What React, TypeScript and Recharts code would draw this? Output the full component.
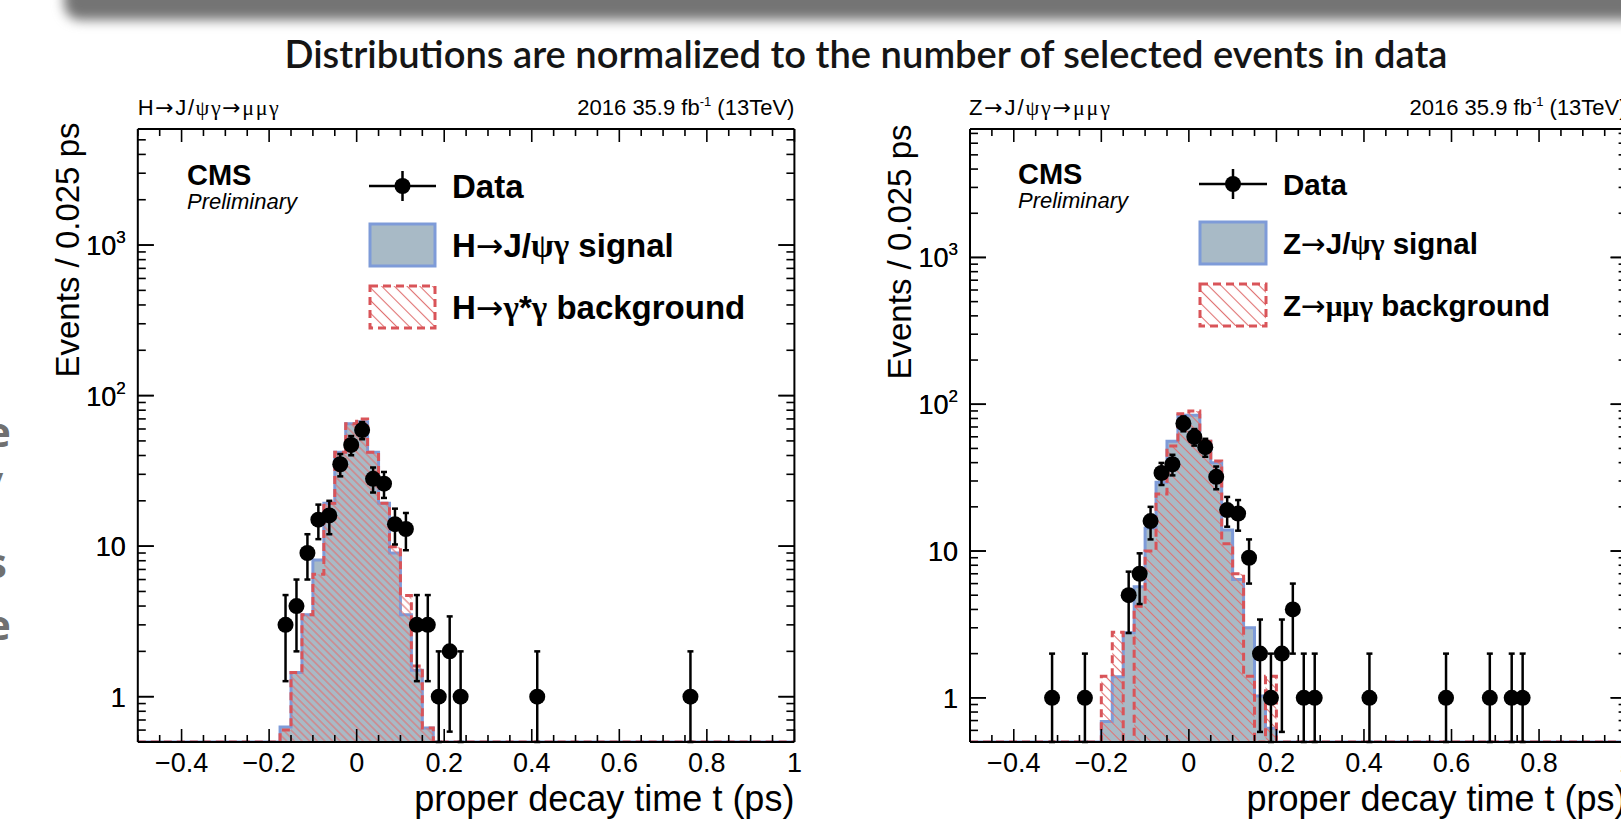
import React from 'react';
import { ComposedChart, Area, Scatter, XAxis, YAxis, ErrorBar } from 'recharts';

// ---------- common axis settings ----------
const BIN_WIDTH = 0.025;
const X_MIN = -0.5;
const X_MAX = 1.0;
const Y_MIN = 0.5;

const X_MAJOR = [-0.4, -0.2, 0, 0.2, 0.4, 0.6, 0.8, 1.0];
const X_MAJOR_LABELS = ['\u22120.4', '\u22120.2', '0', '0.2', '0.4', '0.6', '0.8', '1'];
const Y_MAJOR = [1, 10, 100, 1000];
const Y_MAJOR_BASE = ['1', '10', '10', '10'];
const Y_MAJOR_EXP = ['', '', '2', '3'];

// ---------- H -> J/psi gamma panel ----------
const hFirstEdge = -0.175;
const hSignal = [0.63, 1.45, 3.5, 8.1, 19.3, 42, 65, 67, 42, 19.3, 9.0, 3.5, 1.5, 0.62];
const hBackground = [0.6, 1.45, 3.5, 6.5, 19.3, 42, 65, 70, 42, 19.3, 9.9, 4.7, 1.6, 0.62];
const hDataT = [-0.1625, -0.1375, -0.1125, -0.0875, -0.0625, -0.0375, -0.0125, 0.0125, 0.0375, 0.0625, 0.0875, 0.1125, 0.1375, 0.1625, 0.1875, 0.2125, 0.2375, 0.4125, 0.7625];
const hDataN = [3, 4, 9, 15, 16, 35, 47, 59, 28, 26, 14, 13, 3, 3, 1, 2, 1, 1, 1];
const hYMax = 5900;

// ---------- Z -> J/psi gamma panel ----------
const zFirstEdge = -0.2;
const zSignal = [0.69, 1.39, 2.78, 5.7, 14.3, 29.4, 56, 84, 84, 56, 40, 13.9, 6.4, 3.0, 1.03, 0.62];
const zBackground = [1.4, 2.8, 0, 4.2, 10, 24.5, 52, 86, 90, 56, 41, 11.2, 7.0, 1.4, 0, 1.4];
const zDataT = [-0.3125, -0.2375, -0.1375, -0.1125, -0.0875, -0.0625, -0.0375, -0.0125, 0.0125, 0.0375, 0.0625, 0.0875, 0.1125, 0.1375, 0.1625, 0.1875, 0.2125, 0.2375, 0.2625, 0.2875, 0.4125, 0.5875, 0.6875, 0.7375, 0.7625];
const zDataN = [1, 1, 5, 7, 16, 34, 39, 74, 60, 51, 32, 19, 18, 9, 2, 1, 2, 4, 1, 1, 1, 1, 1, 1, 1];
const zYMax = 7500;

// ---------- table builders ----------
function histTable(first: number, sig: number[], bkg: number[]) {
  const n = Math.round((X_MAX - X_MIN) / BIN_WIDTH);
  const offset = Math.round((first - X_MIN) / BIN_WIDTH);
  const rows: { t: number; sig: number; bkg: number }[] = [];
  for (let i = 0; i <= n; i++) {
    const k = Math.min(i, n - 1) - offset;
    const s = sig[k] ?? 0;
    const b = bkg[k] ?? 0;
    rows.push({ t: X_MIN + i * BIN_WIDTH, sig: Math.max(s, Y_MIN), bkg: Math.max(b, Y_MIN) });
  }
  return rows;
}

function dataTable(ts: number[], ns: number[]) {
  return ts.map((t, i) => {
    const n = ns[i];
    const e = Math.sqrt(n);
    return { t, n, err: [Math.min(e, n - Y_MIN), e] };
  });
}

const X_TICKS = Array.from({ length: 31 }, (_, i) => +(X_MIN + i * 0.05).toFixed(3));
function yTicks(max: number) {
  const out: number[] = [];
  [0.1, 1, 10, 100, 1000].forEach((d) => {
    for (let m = 1; m <= 9; m++) {
      const v = +(d * m).toPrecision(3);
      if (v > Y_MIN && v < max) out.push(v);
    }
  });
  return out;
}

const FONT = "'Liberation Sans', Arial, Helvetica, sans-serif";
const SYM_FONT = "'Liberation Serif', 'DejaVu Serif', serif";
const ARROW_FONT = "'DejaVu Sans', sans-serif";
const SIG_FILL = '#a8bac6';
const SIG_LINE = '#7e9bd8';
const BKG_LINE = '#d95459';
const HATCH = '#e07272';

// render a label, giving arrows and greek letters ROOT-like glyphs
function rich(s: string) {
  const parts: React.ReactNode[] = [];
  let buf = '';
  const flush = (k: number) => {
    if (buf) parts.push(<tspan key={`b${k}`}>{buf}</tspan>);
    buf = '';
  };
  Array.from(s).forEach((ch, i) => {
    if (ch === '\u2192') {
      flush(i);
      parts.push(
        <tspan key={`a${i}`} fontFamily={ARROW_FONT} fontWeight="normal">
          {ch}
        </tspan>
      );
    } else if (/[\u0370-\u03ff]/.test(ch)) {
      flush(i);
      parts.push(
        <tspan key={`g${i}`} fontFamily={SYM_FONT}>
          {ch}
        </tspan>
      );
    } else buf += ch;
  });
  flush(9999);
  return parts;
}

const makeXTick = (side: 'bottom' | 'top') => (props: any) => {
  const { x, y, payload } = props;
  const v = payload.value as number;
  const mi = X_MAJOR.findIndex((m) => Math.abs(m - v) < 1e-6);
  const len = mi >= 0 ? 13 : 7;
  const dir = side === 'bottom' ? -1 : 1;
  return (
    <g>
      <line x1={x} x2={x} y1={y} y2={y + dir * len} stroke="#000" strokeWidth={1.6} />
      {side === 'bottom' && mi >= 0 && (
        <text x={x} y={y + 30} textAnchor="middle" fontFamily={FONT} fontSize={27} fill="#000">
          {X_MAJOR_LABELS[mi]}
        </text>
      )}
    </g>
  );
};

const makeYTick = (side: 'left' | 'right') => (props: any) => {
  const { x, y, payload } = props;
  const v = payload.value as number;
  const mi = Y_MAJOR.findIndex((m) => Math.abs(m - v) < 1e-6 * m);
  const len = mi >= 0 ? 16 : 8;
  const dir = side === 'left' ? 1 : -1;
  return (
    <g>
      <line x1={x} x2={x + dir * len} y1={y} y2={y} stroke="#000" strokeWidth={1.6} />
      {side === 'left' && mi >= 0 && (
        <text x={x - 12} y={y + 10} textAnchor="end" fontFamily={FONT} fontSize={27} fill="#000">
          {Y_MAJOR_BASE[mi]}
          {Y_MAJOR_EXP[mi] ? (
            <tspan dy={-12} fontSize={17}>
              {Y_MAJOR_EXP[mi]}
            </tspan>
          ) : null}
        </text>
      )}
    </g>
  );
};

const Dot = (p: any) => <circle cx={p.cx} cy={p.cy} r={8} fill="#000" />;

type PanelProps = {
  id: string;
  left: number;
  marginLeft: number;
  marginRight: number;
  yMax: number;
  hist: { t: number; sig: number; bkg: number }[];
  data: { t: number; n: number; err: number[] }[];
  hatch: number;
};

function Panel({ id, left, marginLeft, marginRight, yMax, hist, data, hatch }: PanelProps) {
  const axisLine = { stroke: '#000', strokeWidth: 2 };
  return (
    <div style={{ position: 'absolute', left, top: 0 }}>
      <ComposedChart width={830} height={819} margin={{ top: 99, bottom: 47, left: marginLeft, right: marginRight }}>
        <defs>
          <pattern id={`hatch-${id}`} patternUnits="userSpaceOnUse" width={hatch} height={hatch} patternTransform="rotate(45)">
            <line x1={0} y1={hatch / 2} x2={hatch} y2={hatch / 2} stroke={HATCH} strokeWidth={1.1} />
          </pattern>
        </defs>
        <XAxis
          type="number"
          dataKey="t"
          domain={[X_MIN, X_MAX]}
          allowDataOverflow
          ticks={X_TICKS}
          interval={0}
          tick={makeXTick('bottom')}
          tickLine={false}
          tickSize={0}
          tickMargin={0}
          axisLine={axisLine}
          height={30}
        />
        <XAxis
          xAxisId="top"
          orientation="top"
          type="number"
          dataKey="t"
          domain={[X_MIN, X_MAX]}
          allowDataOverflow
          ticks={X_TICKS}
          interval={0}
          tick={makeXTick('top')}
          tickLine={false}
          tickSize={0}
          tickMargin={0}
          axisLine={axisLine}
          height={30}
        />
        <YAxis
          type="number"
          scale="log"
          domain={[Y_MIN, yMax]}
          allowDataOverflow
          ticks={[...Y_MAJOR, ...yTicks(yMax)]}
          interval={0}
          tick={makeYTick('left')}
          tickLine={false}
          tickSize={0}
          tickMargin={0}
          axisLine={axisLine}
          width={30}
        />
        <YAxis
          yAxisId="right"
          orientation="right"
          type="number"
          scale="log"
          domain={[Y_MIN, yMax]}
          allowDataOverflow
          ticks={[...Y_MAJOR, ...yTicks(yMax)]}
          interval={0}
          tick={makeYTick('right')}
          tickLine={false}
          tickSize={0}
          tickMargin={0}
          axisLine={axisLine}
          width={30}
        />
        <Area
          data={hist}
          dataKey="sig"
          type="stepAfter"
          baseValue={Y_MIN}
          fill={SIG_FILL}
          fillOpacity={1}
          stroke={SIG_LINE}
          strokeWidth={3}
          dot={false}
          activeDot={false}
          isAnimationActive={false}
        />
        <Area
          data={hist}
          dataKey="bkg"
          type="stepAfter"
          baseValue={Y_MIN}
          fill={`url(#hatch-${id})`}
          fillOpacity={1}
          stroke={BKG_LINE}
          strokeWidth={3}
          strokeDasharray="8 5"
          dot={false}
          activeDot={false}
          isAnimationActive={false}
        />
        <Scatter data={data} dataKey="n" shape={Dot} isAnimationActive={false}>
          <ErrorBar dataKey="err" direction="y" width={3} stroke="#000" strokeWidth={2.5} isAnimationActive={false} />
        </Scatter>
      </ComposedChart>
    </div>
  );
}

function Legend({ x, y, fs, sigText, bkgText, id, boxW }: any) {
  const cx = x + boxW / 2;
  return (
    <g>
      <line x1={x} x2={x + boxW} y1={y} y2={y} stroke="#000" strokeWidth={2.5} />
      <line x1={cx} x2={cx} y1={y - 15} y2={y + 15} stroke="#000" strokeWidth={2.5} />
      <circle cx={cx} cy={y} r={8} fill="#000" />
      <text x={x + boxW + 16} y={y + fs * 0.36} fontFamily={FONT} fontWeight="bold" fontSize={fs}>Data</text>
      <rect x={x + 1} y={y + 38} width={boxW - 2} height={42} fill={SIG_FILL} stroke={SIG_LINE} strokeWidth={3} />
      <text x={x + boxW + 16} y={y + 59 + fs * 0.36} fontFamily={FONT} fontWeight="bold" fontSize={fs}>{rich(sigText)}</text>
      <rect x={x + 1} y={y + 100} width={boxW - 2} height={42} fill={`url(#lhatch-${id})`} stroke={BKG_LINE} strokeWidth={3} strokeDasharray="8 5" />
      <text x={x + boxW + 16} y={y + 121 + fs * 0.36} fontFamily={FONT} fontWeight="bold" fontSize={fs}>{rich(bkgText)}</text>
    </g>
  );
}

function Header({ x0, x1, label }: { x0: number; x1: number; label: string }) {
  return (
    <g fontFamily={FONT} fontSize={22} fill="#000">
      <text x={x0} y={115} textLength={141} lengthAdjust="spacing">{rich(label)}</text>
      <text x={x1} y={115} textAnchor="end">
        2016 35.9 fb
        <tspan dy={-9} fontSize={13}>-1</tspan>
        <tspan dy={9}> (13TeV)</tspan>
      </text>
    </g>
  );
}

export default function App() {
  const hHist = histTable(hFirstEdge, hSignal, hBackground);
  const zHist = histTable(zFirstEdge, zSignal, zBackground);
  const hData = dataTable(hDataT, hDataN);
  const zData = dataTable(zDataT, zDataN);

  const sideLetter = (ch: string, top: number) => (
    <div
      style={{
        position: 'absolute',
        left: -14,
        top,
        fontFamily: "'Open Sans', sans-serif",
        fontWeight: 700,
        fontSize: 42,
        color: '#707070',
        lineHeight: 1,
      }}
    >
      {ch}
    </div>
  );

  return (
    <div style={{ position: 'fixed', left: 0, top: 0, width: 1621, height: 819, overflow: 'hidden', background: '#fff' }}>
      <div
        style={{
          position: 'absolute',
          left: 64,
          top: -26,
          width: 1620,
          height: 46,
          background: '#747474',
          borderRadius: 16,
          filter: 'blur(6px)',
        }}
      />
      {sideLetter('e', 410)}
      {sideLetter('/', 466)}
      {sideLetter('s', 541)}
      {sideLetter('e', 603)}

      <Panel id="h" left={0} marginLeft={107.8} marginRight={5.6} yMax={hYMax} hist={hHist} data={hData} hatch={5.4} />
      <Panel id="z" left={830} marginLeft={110} marginRight={3.4} yMax={zYMax} hist={zHist} data={zData} hatch={7} />

      <svg width={1621} height={819} style={{ position: 'absolute', left: 0, top: 0, pointerEvents: 'none' }}>
        <defs>
          <pattern id="lhatch-h" patternUnits="userSpaceOnUse" width={9} height={9} patternTransform="rotate(45)">
            <line x1={0} y1={4.5} x2={9} y2={4.5} stroke={HATCH} strokeWidth={1.1} />
          </pattern>
          <pattern id="lhatch-z" patternUnits="userSpaceOnUse" width={9} height={9} patternTransform="rotate(45)">
            <line x1={0} y1={4.5} x2={9} y2={4.5} stroke={HATCH} strokeWidth={1.1} />
          </pattern>
        </defs>
        <text
          x={866}
          y={68}
          textAnchor="middle"
          fontFamily="Lato, 'Noto Sans', sans-serif"
          fontWeight={600}
          fontSize={38}
          fill="#151515"
          textLength={1163}
          lengthAdjust="spacingAndGlyphs"
        >
          Distributions are normalized to the number of selected events in data
        </text>

        <Header x0={137.8} x1={794.4} label={'H\u2192J/\u03c8\u03b3\u2192\u03bc\u03bc\u03b3'} />
        <Header x0={969} x1={1626.6} label={'Z\u2192J/\u03c8\u03b3\u2192\u03bc\u03bc\u03b3'} />

        <text transform="translate(79,250) rotate(-90)" textAnchor="middle" fontFamily={FONT} fontSize={33}>
          Events / 0.025 ps
        </text>
        <text transform="translate(911,252) rotate(-90)" textAnchor="middle" fontFamily={FONT} fontSize={33}>
          Events / 0.025 ps
        </text>

        <text x={794.4} y={811} textAnchor="end" fontFamily={FONT} fontSize={36}>proper decay time t (ps)</text>
        <text x={1626.6} y={811} textAnchor="end" fontFamily={FONT} fontSize={36}>proper decay time t (ps)</text>

        <text x={187} y={185} fontFamily={FONT} fontWeight="bold" fontSize={29}>CMS</text>
        <text x={187} y={209} fontFamily={FONT} fontStyle="italic" fontSize={22}>Preliminary</text>
        <text x={1018} y={184} fontFamily={FONT} fontWeight="bold" fontSize={29}>CMS</text>
        <text x={1018} y={208} fontFamily={FONT} fontStyle="italic" fontSize={22}>Preliminary</text>

        <Legend x={369} y={186} fs={33} boxW={67} id="h" sigText={'H\u2192J/\u03c8\u03b3 signal'} bkgText={'H\u2192\u03b3*\u03b3 background'} />
        <Legend x={1199} y={184} fs={29.5} boxW={68} id="z" sigText={'Z\u2192J/\u03c8\u03b3 signal'} bkgText={'Z\u2192\u03bc\u03bc\u03b3 background'} />
      </svg>
    </div>
  );
}
